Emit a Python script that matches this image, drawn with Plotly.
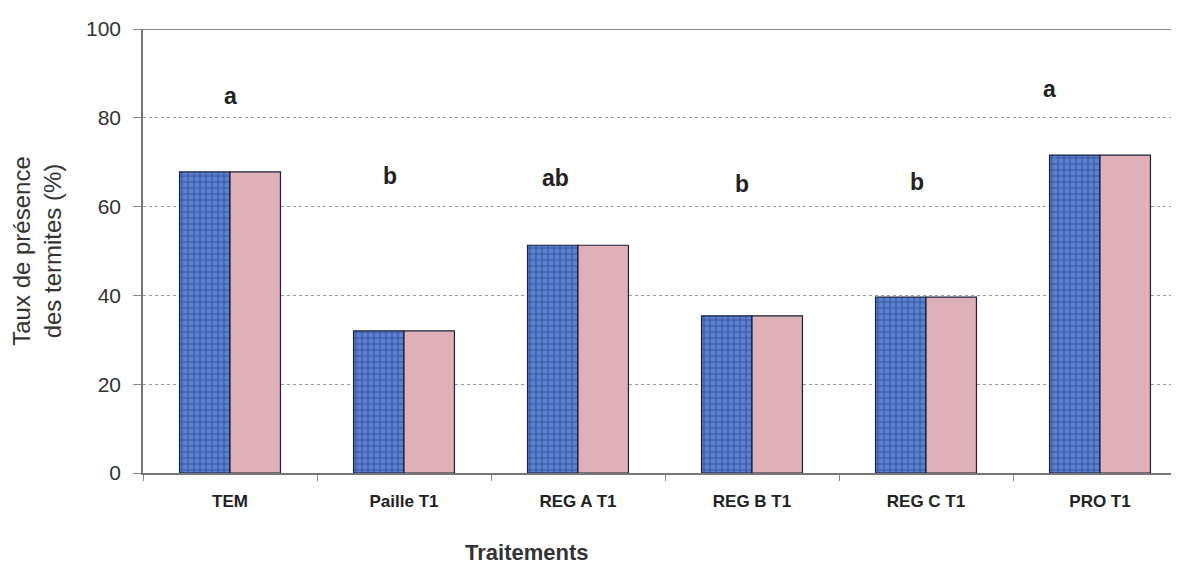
import plotly.graph_objects as go

categories = ["TEM", "Paille T1", "REG A T1", "REG B T1", "REG C T1", "PRO T1"]
series_blue = [67.8, 32.0, 51.3, 35.4, 39.6, 71.6]
series_pink = [67.8, 32.0, 51.3, 35.4, 39.6, 71.6]
letters = ["a", "b", "ab", "b", "b", "a"]
letter_y = [85.0, 67.0, 66.5, 65.0, 65.5, 86.5]
letter_dx = [0.0, -0.08, -0.13, -0.06, -0.05, -0.29]
y_ticks = [0, 20, 40, 60, 80, 100]

fig = go.Figure()
fig.add_trace(go.Bar(
    x=categories, y=series_blue, name="s1",
    marker=dict(color="#4f74c8", line=dict(color="#1a1f3a", width=1.2),
                pattern=dict(shape="+", fgcolor="#1c2f6e", bgcolor="#5a80d0", size=6, solidity=0.35)),
))
fig.add_trace(go.Bar(
    x=categories, y=series_pink, name="s2",
    marker=dict(color="#deb0b8", line=dict(color="#1a1f3a", width=1.2)),
))

for i, (t, yv, dx) in enumerate(zip(letters, letter_y, letter_dx)):
    fig.add_annotation(x=i + dx, y=yv, text=f"<b>{t}</b>", showarrow=False,
                       font=dict(family="Arial, Liberation Sans", size=23, color="#222"))

fig.add_shape(type="line", xref="paper", yref="y", x0=0, x1=1, y0=100, y1=100,
              line=dict(color="#666", width=1.5))

fig.add_annotation(xref="paper", yref="paper", x=0.3675, y=-0.178, yanchor="middle",
                   text="<b>Traitements</b>", showarrow=False,
                   font=dict(family="Arial, Liberation Sans", size=22, color="#333"))

fig.update_layout(
    width=1179, height=566,
    margin=dict(l=135, r=0, t=21, b=101),
    paper_bgcolor="white", plot_bgcolor="white",
    barmode="group", bargap=0.42, bargroupgap=0,
    showlegend=False,
    font=dict(family="Arial, Liberation Sans", color="#333"),
)
fig.update_yaxes(
    range=[0, 100], tickvals=y_ticks, ticks="outside", ticklen=8, tickcolor="#888",
    ticklabelstandoff=8, automargin=False,
    tickfont=dict(size=21, color="#333"),
    showgrid=True, gridcolor="#999", griddash="dot", gridwidth=1,
    showline=True, linecolor="#777", linewidth=1.5, zeroline=False,
    title=dict(text="Taux de présence<br>des termites (%)", font=dict(size=24, color="#333"), standoff=24),
)
fig.update_xaxes(
    ticks="outside", tickson="boundaries", ticklen=6, tickcolor="#888",
    ticklabelstandoff=12, automargin=False,
    tickfont=dict(size=17, color="#222"),
    tickvals=categories, ticktext=[f"<b>{c}</b>" for c in categories],
    showline=True, linecolor="#777", linewidth=1.5,
)

fig.write_html("out.html")
